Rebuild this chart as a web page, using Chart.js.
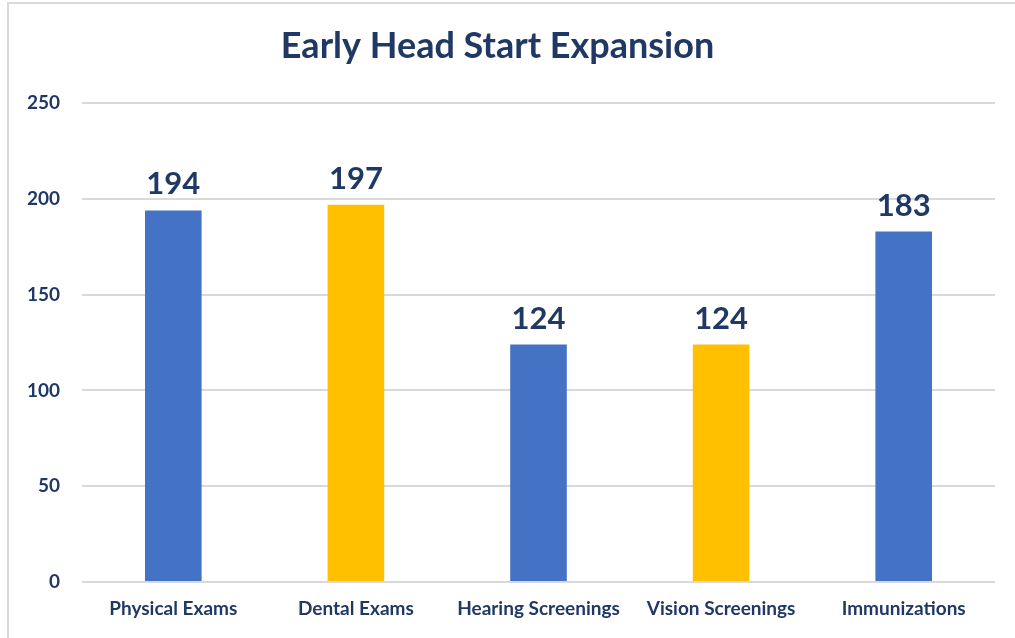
<!DOCTYPE html>
<html>
<head>
<meta charset="utf-8">
<script src="https://cdn.jsdelivr.net/npm/chart.js@4/dist/chart.umd.min.js"></script>
<style>
    html, body { margin: 0; padding: 0; background: #ffffff; }
    #wrap { position: relative; width: 1015px; height: 638px; }
    #frame { position: absolute; left: 7px; top: 2px; right: 0; bottom: 0; border-left: 2px solid #d9d9d9; border-top: 2px solid #d9d9d9; }
    canvas { position: absolute; left: 0; top: 0; }
</style>
</head>
<body>
<div id="wrap">
    <div id="frame"></div>
    <canvas id="chart" width="1015" height="638"></canvas>
</div>
<script>
const categories = ["Physical Exams", "Dental Exams", "Hearing Screenings", "Vision Screenings", "Immunizations"];
const counts = [194, 197, 124, 124, 183];
const barColors = ["#4472c4", "#ffc000", "#4472c4", "#ffc000", "#4472c4"];
const yTicks = [0, 50, 100, 150, 200, 250];

const navy = "#203864";

// value labels above each bar
const valueLabels = {
    id: "valueLabels",
    afterDatasetsDraw(chart) {
        const ctx = chart.ctx;
        const meta = chart.getDatasetMeta(0);
        ctx.save();
        ctx.font = "bold 31px Lato";
        ctx.fillStyle = navy;
        ctx.textAlign = "center";
        ctx.textBaseline = "alphabetic";
        meta.data.forEach((bar, i) => {
            ctx.fillText(String(counts[i]), bar.x, bar.y - 16);
        });
        ctx.restore();
    }
};

new Chart(document.getElementById("chart").getContext("2d"), {
    type: "bar",
    data: {
        labels: categories,
        datasets: [{
            data: counts,
            backgroundColor: barColors,
            categoryPercentage: 1,
            barPercentage: 0.31
        }]
    },
    options: {
        responsive: false,
        animation: false,
        layout: { padding: { left: 0, right: 20, top: 0, bottom: 0 } },
        plugins: {
            legend: { display: false },
            tooltip: { enabled: false },
            title: {
                display: true,
                text: "Early Head Start Expansion",
                color: navy,
                font: { family: "Lato", size: 36, weight: "bold" },
                padding: { top: 25, bottom: 35 }
            }
        },
        scales: {
            x: {
                grid: { display: false },
                border: { display: false },
                ticks: {
                    color: navy,
                    font: { family: "Lato", size: 19, weight: "bold" },
                    padding: 7,
                    maxRotation: 0
                },
                afterFit(scale) { scale.height = 56; }
            },
            y: {
                min: 0,
                max: 250,
                afterBuildTicks(scale) { scale.ticks = yTicks.map(v => ({ value: v })); },
                grid: { color: "#d9d9d9", lineWidth: 2, drawTicks: false },
                border: { display: false },
                ticks: {
                    color: navy,
                    font: { family: "Lato", size: 19, weight: "bold" },
                    padding: 22
                },
                afterFit(scale) { scale.width = 82; }
            }
        }
    },
    plugins: [valueLabels]
});
</script>
</body>
</html>
